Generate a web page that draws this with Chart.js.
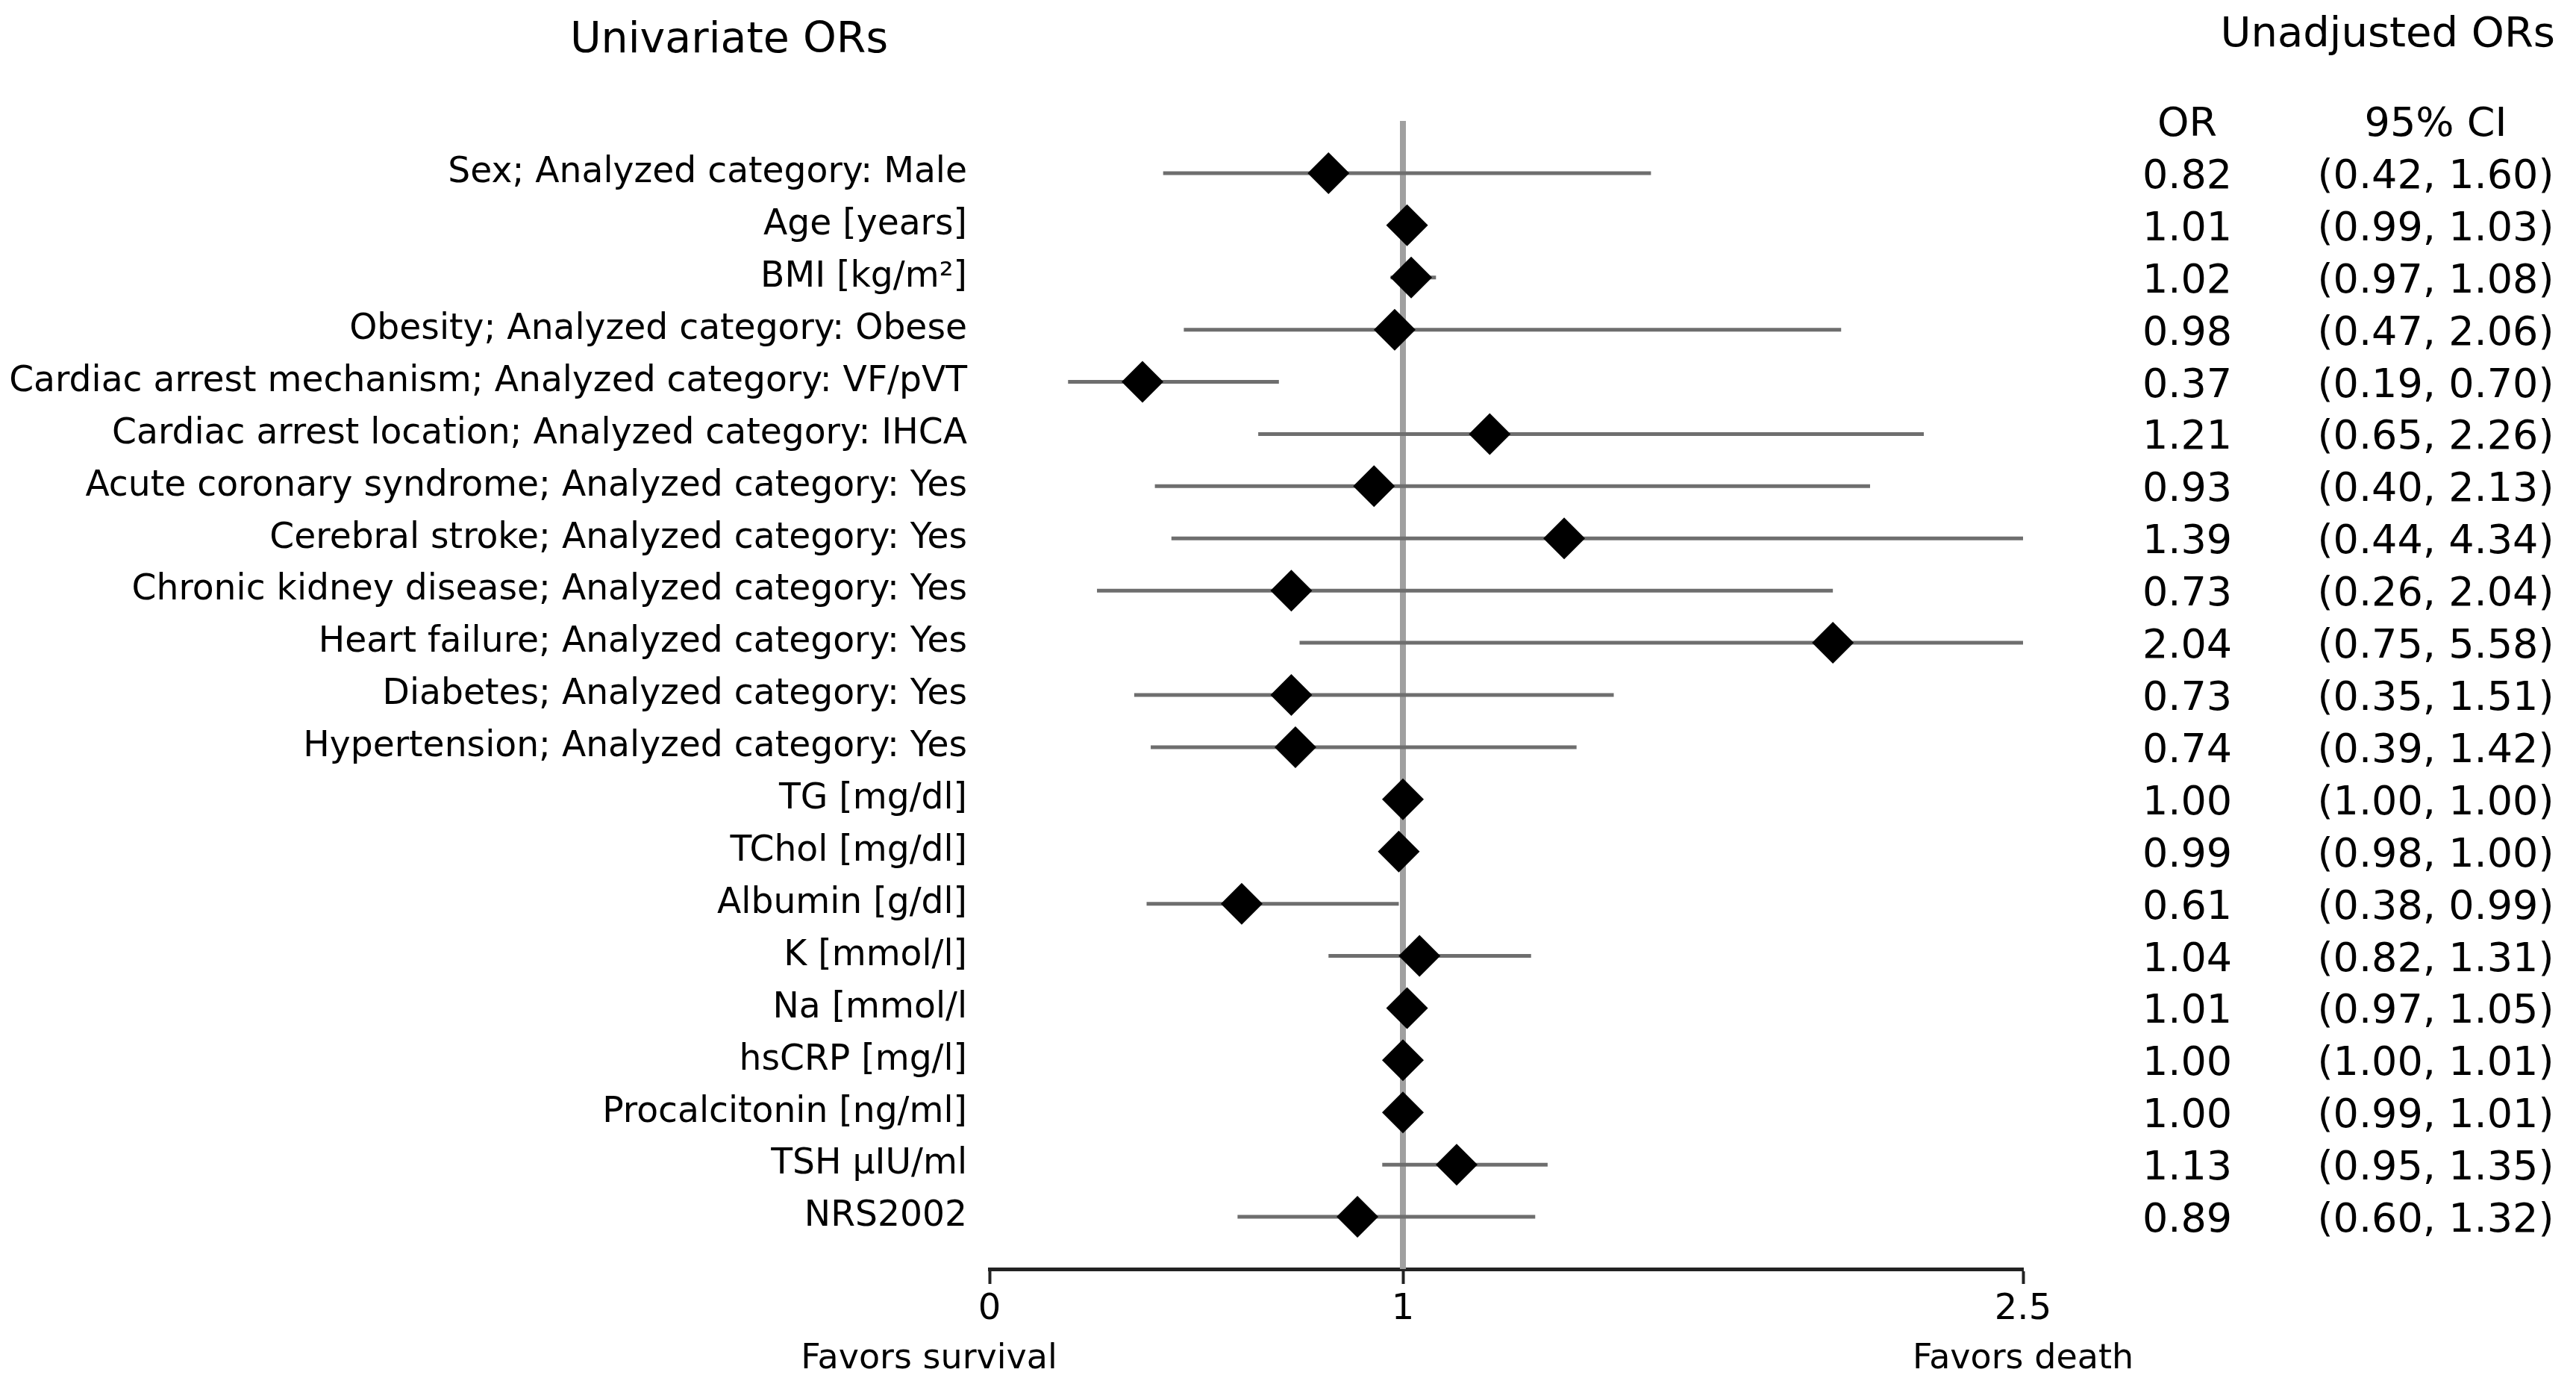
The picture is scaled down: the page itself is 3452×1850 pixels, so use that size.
<!DOCTYPE html>
<html>
<head>
<meta charset="utf-8">
<script src="https://cdn.jsdelivr.net/npm/chart.js@4/dist/chart.umd.min.js"></script>
<style>
  html, body { margin: 0; padding: 0; background: #fff; }
  canvas { display: block; }
</style>
</head>
<body>
<canvas id="forest" width="3452" height="1850"></canvas>
<script>
// ── Data ─────────────────────────────────────────────────────────────────────
const rowLabels = [
  'Sex; Analyzed category: Male',
  'Age [years]',
  'BMI [kg/m²]',
  'Obesity; Analyzed category: Obese',
  'Cardiac arrest mechanism; Analyzed category: VF/pVT',
  'Cardiac arrest location; Analyzed category: IHCA',
  'Acute coronary syndrome; Analyzed category: Yes',
  'Cerebral stroke; Analyzed category: Yes',
  'Chronic kidney disease; Analyzed category: Yes',
  'Heart failure; Analyzed category: Yes',
  'Diabetes; Analyzed category: Yes',
  'Hypertension; Analyzed category: Yes',
  'TG [mg/dl]',
  'TChol [mg/dl]',
  'Albumin [g/dl]',
  'K [mmol/l]',
  'Na [mmol/l',
  'hsCRP [mg/l]',
  'Procalcitonin [ng/ml]',
  'TSH µIU/ml',
  'NRS2002',
];
const orValues = [0.82, 1.01, 1.02, 0.98, 0.37, 1.21, 0.93, 1.39, 0.73, 2.04, 0.73, 0.74, 1.00, 0.99, 0.61, 1.04, 1.01, 1.00, 1.00, 1.13, 0.89];
const ciLower  = [0.42, 0.99, 0.97, 0.47, 0.19, 0.65, 0.40, 0.44, 0.26, 0.75, 0.35, 0.39, 1.00, 0.98, 0.38, 0.82, 0.97, 1.00, 0.99, 0.95, 0.60];
const ciUpper  = [1.60, 1.03, 1.08, 2.06, 0.70, 2.26, 2.13, 4.34, 2.04, 5.58, 1.51, 1.42, 1.00, 1.00, 0.99, 1.31, 1.05, 1.01, 1.01, 1.35, 1.32];
const xTicks = [0, 1, 2.5];
const refValue = 1;

const FONT = "'DejaVu Sans', sans-serif";

// ── Datasets ─────────────────────────────────────────────────────────────────
const refLine = {
  data: [{ x: refValue, y: -1 }, { x: refValue, y: rowLabels.length }],
  showLine: true, borderColor: '#a0a0a0', borderWidth: 8, pointRadius: 0, order: 3,
};

const ciLines = rowLabels.map((_, i) => ({
  data: [{ x: ciLower[i], y: i }, { x: ciUpper[i], y: i }],
  showLine: true, borderColor: '#6e6e6e', borderWidth: 5, borderCapStyle: 'butt',
  pointRadius: 0, order: 2,
}));

const markers = {
  data: orValues.map((v, i) => ({ x: v, y: i })),
  pointStyle: 'rectRot', pointRadius: 28, pointBackgroundColor: '#000',
  pointBorderWidth: 0, order: 1,
};

// ── Text columns / titles ────────────────────────────────────────────────────
const annotations = {
  id: 'annotations',
  afterDraw(chart) {
    const { ctx, scales: { x, y } } = chart;
    const rowY = i => y.getPixelForValue(i);
    ctx.save();
    ctx.fillStyle = '#000';

    ctx.font = `57px ${FONT}`;
    ctx.textAlign = 'center';
    ctx.fillText('Univariate ORs', 977, 70);
    ctx.font = `56px ${FONT}`;
    ctx.textAlign = 'right';
    ctx.fillText('Unadjusted ORs', 3424, 62);

    ctx.font = `54px ${FONT}`;
    ctx.textAlign = 'center';
    ctx.fillText('OR', 2931, rowY(-1) + 20);
    ctx.fillText('95% CI', 3264, rowY(-1) + 20);
    orValues.forEach((v, i) => {
      ctx.fillText(v.toFixed(2), 2931, rowY(i) + 20);
      ctx.fillText(`(${ciLower[i].toFixed(2)}, ${ciUpper[i].toFixed(2)})`, 3264, rowY(i) + 20);
    });

    ctx.font = `46px ${FONT}`;
    ctx.fillText('Favors survival', x.getPixelForValue(0) - 81, 1833);
    ctx.fillText('Favors death', x.getPixelForValue(2.5), 1833);
    ctx.restore();
  },
};

// ── Chart ────────────────────────────────────────────────────────────────────
new Chart(document.getElementById('forest').getContext('2d'), {
  type: 'scatter',
  data: { datasets: [refLine, ...ciLines, markers] },
  options: {
    responsive: false,
    animation: false,
    devicePixelRatio: 1,
    layout: { padding: { top: 162, right: 741, left: 0, bottom: 0 } },
    scales: {
      x: {
        min: 0, max: 2.5,
        afterFit: s => { s.height = 150; },
        afterBuildTicks: s => { s.ticks = xTicks.map(v => ({ value: v })); },
        ticks: { color: '#000', font: { family: FONT, size: 48 }, padding: 6, autoSkip: false, maxRotation: 0,
                 callback: v => String(v) },
        grid: { drawOnChartArea: false, drawTicks: true, tickLength: 20, tickWidth: 4, tickColor: '#222' },
        border: { display: true, color: '#222', width: 5 },
      },
      y: {
        min: -1, max: rowLabels.length, reverse: true,
        afterFit: s => { s.width = 1326; },
        afterBuildTicks: s => { s.ticks = rowLabels.map((_, i) => ({ value: i })); },
        ticks: { color: '#000', font: { family: FONT, size: 47.2 }, padding: 22, autoSkip: false,
                 callback: v => rowLabels[v] },
        grid: { display: false },
        border: { display: false },
      },
    },
    plugins: { legend: { display: false }, tooltip: { enabled: false } },
  },
  plugins: [annotations],
});
</script>
</body>
</html>
